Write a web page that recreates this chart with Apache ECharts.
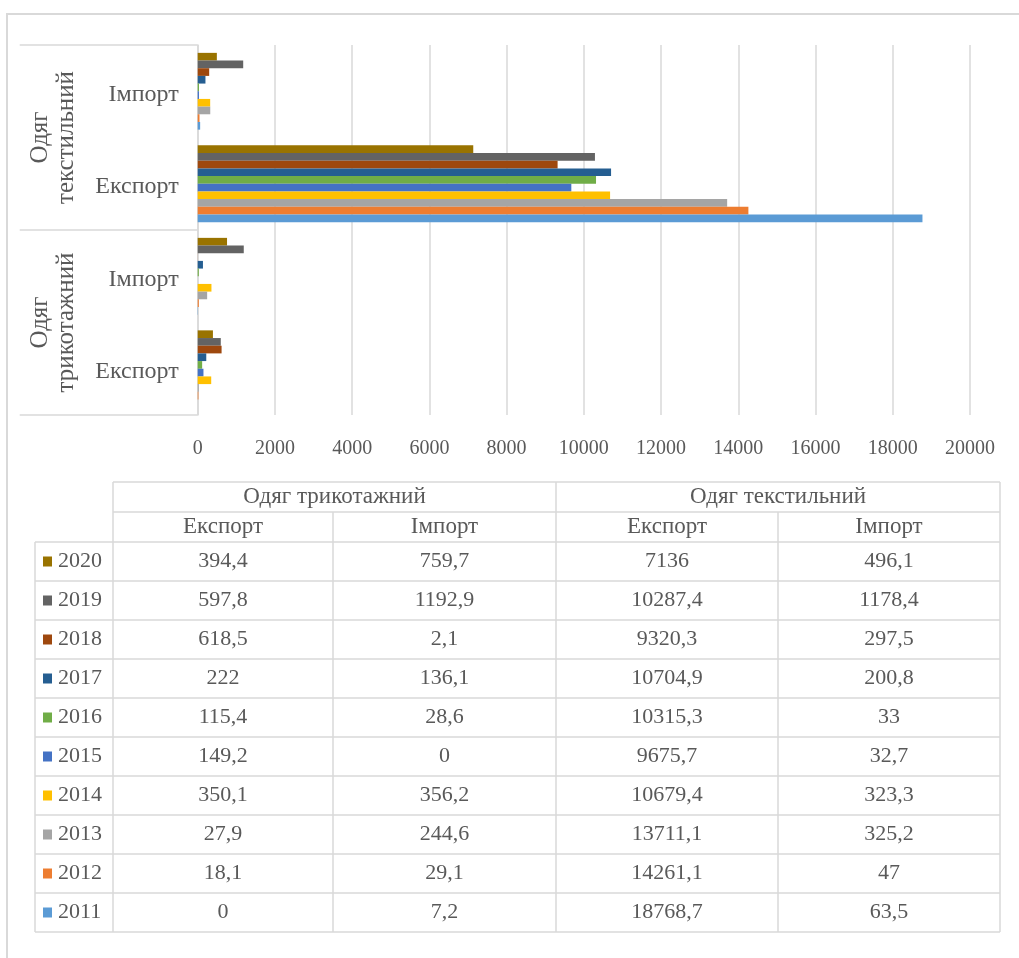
<!DOCTYPE html>
<html>
<head>
<meta charset="utf-8">
<script src="https://cdn.jsdelivr.net/npm/echarts@6/dist/echarts.min.js"></script>
<style>
html,body{margin:0;padding:0;background:#fff;}
#chart{width:1019px;height:958px;}
</style>
</head>
<body>
<div id="chart"></div>
<script>
// ---- data ----
const years = ['2011','2012','2013','2014','2015','2016','2017','2018','2019','2020'];
const colors = ['#5B9BD5','#ED7D31','#A5A5A5','#FFC000','#4472C4','#70AD47','#255E91','#9E480E','#636363','#997300'];
const knitExport = [0, 18.1, 27.9, 350.1, 149.2, 115.4, 222, 618.5, 597.8, 394.4];
const knitImport = [7.2, 29.1, 244.6, 356.2, 0, 28.6, 136.1, 2.1, 1192.9, 759.7];
const textExport = [18768.7, 14261.1, 13711.1, 10679.4, 9675.7, 10315.3, 10704.9, 9320.3, 10287.4, 7136];
const textImport = [63.5, 47, 325.2, 323.3, 32.7, 33, 200.8, 297.5, 1178.4, 496.1];
const subCategories = ['Експорт','Імпорт','Експорт','Імпорт'];
const groups = ['Одяг трикотажний','Одяг текстильний'];
const groupLabels = ['Одяг\nтрикотажний','Одяг\nтекстильний'];
const xTicks = { min: 0, max: 20000, interval: 2000 };

const FONT = 'Liberation Serif';
const TXT = '#595959';
const LINE = '#d9d9d9';

// ---- series (2020 listed first so that 2011 sits at the bottom of each group) ----
const series = years.map((y, i) => ({
  name: y,
  type: 'bar',
  yAxisIndex: 0,
  barGap: '0%',
  barCategoryGap: '17%',
  itemStyle: { color: colors[i] },
  data: [knitExport[i], knitImport[i], textExport[i], textImport[i]]
})).reverse();

// ---- data table (graphic) ----
const cols = [35, 113, 333, 556, 778, 1000];
const tTop = 482, h1 = 30, h2 = 30, rowH = 39;
const dataTop = tTop + h1 + h2;
const nRows = years.length;
const tBottom = dataTop + nRows * rowH;
const g = [];
function hline(x1, x2, y) {
  g.push({ type: 'line', shape: { x1, y1: y, x2, y2: y }, style: { stroke: LINE, lineWidth: 1.5 }, silent: true });
}
function vline(x, y1, y2) {
  g.push({ type: 'line', shape: { x1: x, y1, x2: x, y2 }, style: { stroke: LINE, lineWidth: 1.5 }, silent: true });
}
function txt(text, x, y, align, size) {
  g.push({ type: 'text', x, y, style: { text, fill: TXT, font: (size || 22) + 'px "' + FONT + '"', align: align || 'center', verticalAlign: 'middle' }, silent: true });
}
// outer chart border
g.push({ type: 'rect', shape: { x: 7, y: 14, width: 1100, height: 1000 }, style: { fill: 'none', stroke: LINE, lineWidth: 2 }, silent: true, z: -1 });
hline(cols[1], cols[5], tTop);
hline(cols[1], cols[5], tTop + h1);
for (let r = 0; r <= nRows; r++) hline(cols[0], cols[5], dataTop + r * rowH);
vline(cols[0], dataTop, tBottom);
vline(cols[1], tTop, tBottom);
vline(cols[3], tTop, tBottom);
vline(cols[5], tTop, tBottom);
vline(cols[2], tTop + h1, tBottom);
vline(cols[4], tTop + h1, tBottom);
txt(groups[0], (cols[1] + cols[3]) / 2, tTop + h1 / 2, 'center', 23);
txt(groups[1], (cols[3] + cols[5]) / 2, tTop + h1 / 2, 'center', 23);
for (let c = 0; c < 4; c++) txt(subCategories[c % 2], (cols[c + 1] + cols[c + 2]) / 2, tTop + h1 + h2 / 2, 'center', 23);
const tableCols = [knitExport, knitImport, textExport, textImport];
const fmt = v => String(v).replace('.', ',');
for (let r = 0; r < nRows; r++) {
  const i = nRows - 1 - r; // 2020 first
  const cy = dataTop + r * rowH + rowH / 2;
  g.push({ type: 'rect', shape: { x: cols[0] + 8, y: cy - 5, width: 9, height: 10 }, style: { fill: colors[i] }, silent: true });
  txt(years[i], cols[0] + 23, cy, 'left');
  for (let c = 0; c < 4; c++) txt(fmt(tableCols[c][i]), (cols[c + 1] + cols[c + 2]) / 2, cy);
}

const chart = echarts.init(document.getElementById('chart'), null, { renderer: 'canvas' });
chart.setOption({
  animation: false,
  backgroundColor: '#fff',
  textStyle: { fontFamily: FONT },
  grid: { left: 197.7, right: 49, top: 45, bottom: 543, containLabel: false },
  xAxis: {
    type: 'value', min: xTicks.min, max: xTicks.max, interval: xTicks.interval,
    axisLine: { show: false }, axisTick: { show: false },
    splitLine: { lineStyle: { color: LINE, width: 1.5 } },
    axisLabel: { color: TXT, fontSize: 20, fontFamily: FONT, margin: 24, formatter: v => String(v) }
  },
  yAxis: [
    {
      type: 'category', data: subCategories, position: 'left',
      axisLine: { lineStyle: { color: LINE, width: 1.5 } },
      axisTick: { show: false },
      axisLabel: {
        color: TXT, fontSize: 24, fontFamily: FONT, margin: 19,
        formatter: v => '{a|' + v + '}',
        rich: { a: { fontSize: 24, fontFamily: FONT, color: TXT, padding: [6, 0, 0, 0] } }
      }
    },
    {
      type: 'category', data: groupLabels, position: 'left', offset: 0,
      axisLine: { show: false },
      axisTick: { show: true, length: 178, interval: 0, lineStyle: { color: LINE, width: 1.5 } },
      axisLabel: { color: TXT, fontSize: 25, fontFamily: FONT, rotate: 90, margin: 118, lineHeight: 26, interval: 0 }
    }
  ],
  series: series,
  graphic: g
});
</script>
</body>
</html>
